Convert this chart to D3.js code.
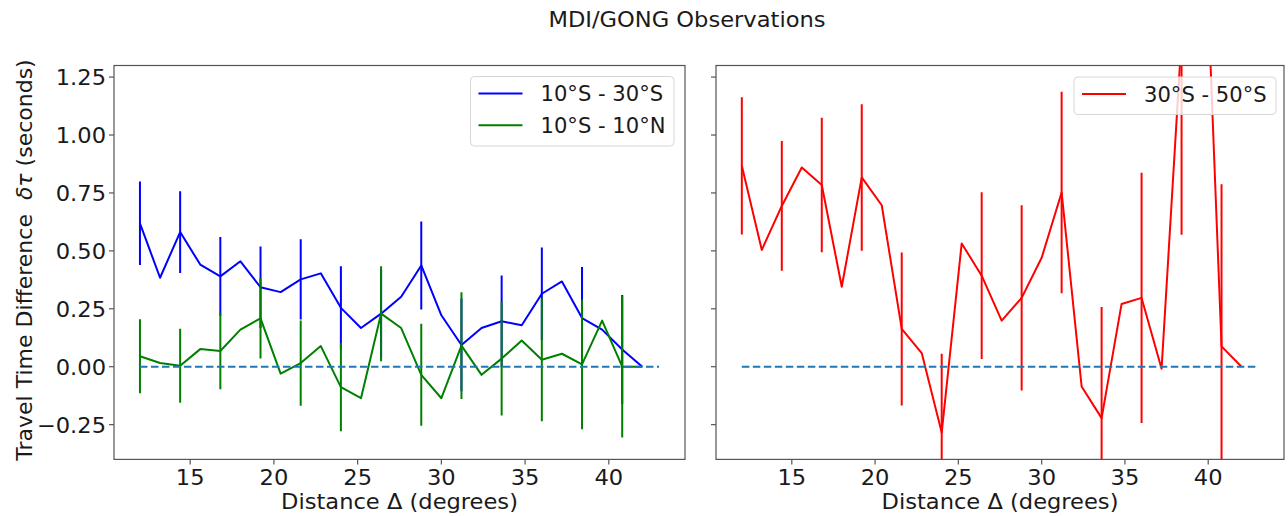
<!DOCTYPE html>
<head>
<meta charset="utf-8">
<title>MDI/GONG Observations</title>
<script src="https://d3js.org/d3.v7.min.js"></script>
<style>
  body { margin: 0; background: #fff; }
  text { font-family: "DejaVu Sans", sans-serif; fill: #1a1a1a; }
</style>
</head>
<body>
<script>

  // travel time differences (seconds), error bars on every other point
  let distance = [12, 13.2, 14.4, 15.6, 16.8, 18, 19.2, 20.4, 21.6, 22.8, 24, 25.2, 26.4,
                  27.6, 28.8, 30, 31.2, 32.4, 33.6, 34.8, 36, 37.2, 38.4, 39.6, 40.8, 42];

  let south_10_30 = [0.619, 0.384, 0.581, 0.441, 0.390, 0.455, 0.343, 0.322, 0.377, 0.403, 0.254, 0.167, 0.229,
                     0.302, 0.437, 0.222, 0.094, 0.167, 0.196, 0.179, 0.315, 0.368, 0.210, 0.160, 0.074, 0.0];
  let south_10_30_err = [0.18, null, 0.176, null, 0.17, null, 0.176, null, 0.173, null, 0.18, null, 0.19,
                         null, 0.19, null, 0.20, null, 0.198, null, 0.20, null, 0.22, null, 0.235, null];

  let equator = [0.045, 0.016, 0.004, 0.076, 0.068, 0.160, 0.209, -0.030, 0.016, 0.089, -0.088, -0.136, 0.229,
                 0.167, -0.035, -0.136, 0.091, -0.035, 0.035, 0.113, 0.030, 0.056, 0.010, 0.199, 0.0, 0.0];
  let equator_err = [0.16, null, 0.16, null, 0.165, null, 0.173, null, 0.184, null, 0.19, null, 0.205,
                     null, 0.22, null, 0.23, null, 0.245, null, 0.265, null, 0.28, null, 0.305, null];

  let south_30_50 = [0.867, 0.504, 0.694, 0.860, 0.784, 0.345, 0.817, 0.697, 0.163, 0.059, -0.284, 0.532, 0.393,
                     0.199, 0.297, 0.470, 0.752, -0.085, -0.222, 0.271, 0.297, -0.009, 1.42, 2.3, 0.088, 0.0];
  let south_30_50_err = [0.296, null, 0.28, null, 0.29, null, 0.316, null, 0.33, null, 0.34, null, 0.36,
                         null, 0.40, null, 0.435, null, 0.48, null, 0.54, null, 0.85, null, 0.70, null];

  let zero_line = [12, 43];
  let x_ticks = [15, 20, 25, 30, 35, 40];
  let y_ticks = [-0.25, 0, 0.25, 0.5, 0.75, 1.0, 1.25];

  let width = 1288;
  let height = 516;
  let plot_top = 65.5;
  let plot_bottom = 459.4;
  let tick_size = 21.5;
  let stretch = 1.05;

  let panels = [
    {id: "left", left: 114, right: 685, y_labels: true,
     series: [
       {values: south_10_30, err: south_10_30_err, color: "#0000ff", label: "10°S - 30°S"},
       {values: equator, err: equator_err, color: "#008000", label: "10°S - 10°N"}
     ],
     legend: {x: 470.5, y: 76.5, w: 203.5, h: 69.5}},
    {id: "right", left: 716, right: 1284, y_labels: false,
     series: [
       {values: south_30_50, err: south_30_50_err, color: "#ff0000", label: "30°S - 50°S"}
     ],
     legend: {x: 1074, y: 77, w: 202, h: 37.5}}
  ];

  let svg = d3.select("body").append("svg")
      .attr("width", width)
      .attr("height", height);

  function add_text(g, x, y, str, size, anchor, sx) {
    return g.append("text")
      .attr("transform", "translate(" + x + "," + y + ") scale(" + sx + ",1)")
      .attr("text-anchor", anchor)
      .attr("font-size", size + "px")
      .text(str);
  }

  let y = d3.scaleLinear().domain([-0.4, 1.3]).range([plot_bottom, plot_top]);

  panels.forEach(function(p) {
    let x = d3.scaleLinear().domain([10.45, 44.55]).range([p.left, p.right]);
    let g = svg.append("g").attr("id", p.id);

    g.append("clipPath").attr("id", "clip_" + p.id)
      .append("rect")
      .attr("x", p.left).attr("y", plot_top)
      .attr("width", p.right - p.left).attr("height", plot_bottom - plot_top);

    let plot = g.append("g").attr("clip-path", "url(#clip_" + p.id + ")");

    let line = d3.line()
      .x(function(d, i) { return x(distance[i]); })
      .y(function(d) { return y(d); });

    p.series.forEach(function(s) {
      let idx = d3.range(distance.length).filter(function(i) { return s.err[i] !== null; });
      plot.selectAll(null)
        .data(idx)
        .enter()
        .append("line")
        .attr("x1", function(i) { return x(distance[i]); })
        .attr("x2", function(i) { return x(distance[i]); })
        .attr("y1", function(i) { return y(s.values[i] - s.err[i]); })
        .attr("y2", function(i) { return y(s.values[i] + s.err[i]); })
        .style("stroke", s.color)
        .style("stroke-width", 2);

      plot.append("path")
        .attr("d", line(s.values))
        .style("fill", "none")
        .style("stroke", s.color)
        .style("stroke-width", 2)
        .style("stroke-linejoin", "round");
    });

    // zero reference
    plot.append("line")
      .attr("x1", x(zero_line[0])).attr("x2", x(zero_line[1]))
      .attr("y1", y(0)).attr("y2", y(0))
      .style("stroke", "#1f77b4")
      .style("stroke-width", 2)
      .style("stroke-dasharray", "7.5,3.5");

    // frame
    g.append("rect")
      .attr("x", p.left).attr("y", plot_top)
      .attr("width", p.right - p.left).attr("height", plot_bottom - plot_top)
      .style("fill", "none")
      .style("stroke", "#555")
      .style("stroke-width", 1.2);

    // x ticks
    x_ticks.forEach(function(t) {
      g.append("line")
        .attr("x1", x(t)).attr("x2", x(t))
        .attr("y1", plot_bottom).attr("y2", plot_bottom + 5)
        .style("stroke", "#555").style("stroke-width", 1.2);
      add_text(g, x(t), 484.5, t, tick_size, "middle", stretch);
    });

    // y ticks
    y_ticks.forEach(function(t) {
      g.append("line")
        .attr("x1", p.left - 5).attr("x2", p.left)
        .attr("y1", y(t)).attr("y2", y(t))
        .style("stroke", "#555").style("stroke-width", 1.2);
      if (p.y_labels) {
        add_text(g, p.left - 8, y(t) + 8, t < 0 ? "\u2212" + d3.format(".2f")(-t) : d3.format(".2f")(t),
                 tick_size, "end", stretch);
      }
    });

    add_text(g, (p.left + p.right) / 2, 508.5, "Distance \u0394 (degrees)", tick_size, "middle", stretch);

    // legend
    let lg = g.append("g");
    lg.append("rect")
      .attr("x", p.legend.x).attr("y", p.legend.y)
      .attr("width", p.legend.w).attr("height", p.legend.h)
      .attr("rx", 4)
      .style("fill", "rgba(255,255,255,0.8)")
      .style("stroke", "#d6d6d6")
      .style("stroke-width", 1);
    p.series.forEach(function(s, k) {
      let ly = p.legend.y + 17 + k * 31.7;
      lg.append("line")
        .attr("x1", p.legend.x + 8).attr("x2", p.legend.x + 52)
        .attr("y1", ly).attr("y2", ly)
        .style("stroke", s.color).style("stroke-width", 2);
      add_text(lg, p.legend.x + 70, ly + 7.5, s.label, 20.5, "start", 1.03);
    });
  });

  add_text(svg, 687, 27, "MDI/GONG Observations", 21.5, "middle", 1.05);

  // y axis label
  let ylab = svg.append("text")
    .attr("transform", "translate(32,260) rotate(-90)")
    .attr("text-anchor", "middle")
    .attr("font-size", "22px");
  ylab.append("tspan").text("Travel Time Difference\u00a0\u00a0");
  ylab.append("tspan").attr("font-style", "italic").text("\u03b4\u03c4");
  ylab.append("tspan").text(" (seconds)");

</script>
</body>
